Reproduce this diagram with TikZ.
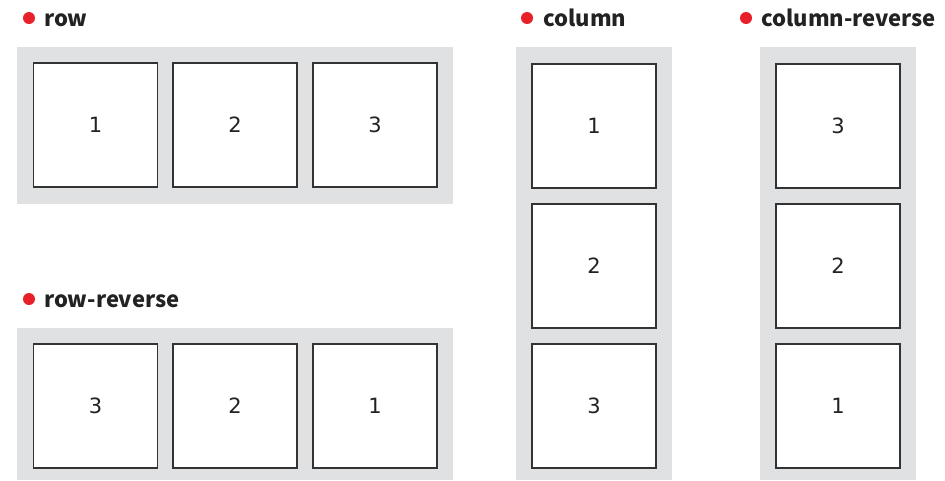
\documentclass[tikz,border=0pt]{standalone}
\usepackage{fontspec}
\newfontfamily\labelfont{Noto Sans CJK JP}
\newfontfamily\digitfont{DejaVu Sans}
\definecolor{panelgray}{HTML}{E0E1E3}
\definecolor{boxline}{HTML}{333333}
\definecolor{dotred}{HTML}{E8202A}
\definecolor{labeltext}{HTML}{222222}
\begin{document}
\begin{tikzpicture}[x=1pt,y=-1pt,
  panel/.style={fill=panelgray, draw=none},
  item/.style={draw=boxline, line width=1.2pt, fill=white, minimum width=124pt, minimum height=124pt, inner sep=0pt, font=\digitfont\fontsize{21}{21}\selectfont, text=labeltext},
  title/.style={anchor=base west, inner sep=0pt, font=\labelfont\bfseries\fontsize{22}{22}\selectfont, text=labeltext},
  bullet/.style={circle, fill=dotred, inner sep=0pt, minimum size=12pt}]
\useasboundingbox (0,0) rectangle (945,480);
% panels
\fill[panelgray] (17,47) rectangle (453,204);
\fill[panelgray] (17,328) rectangle (453,480);
\fill[panelgray] (516,47) rectangle (672,480);
\fill[panelgray] (760,47) rectangle (916,480);
% titles
\node[bullet] (d1) at (29,18) {};
\node[title] (t1) at (44,26) {row};
\node[bullet] (d2) at (29,299) {};
\node[title] (t2) at (44,307) {row-reverse};
\node[bullet] (d3) at (527,18) {};
\node[title] (t3) at (543,26) {column};
\node[bullet] (d4) at (746,18) {};
\node[title] (t4) at (761,26) {column-reverse};
% row
\node[item] (r1) at (95.5,125) {1};
\node[item] (r2) at (235,125) {2};
\node[item] (r3) at (375,125) {3};
% row-reverse
\node[item] (rr3) at (95.5,406) {3};
\node[item] (rr2) at (235,406) {2};
\node[item] (rr1) at (375,406) {1};
% column
\node[item] (c1) at (594,126) {1};
\node[item] (c2) at (594,266) {2};
\node[item] (c3) at (594,406) {3};
% column-reverse
\node[item] (cr3) at (838,126) {3};
\node[item] (cr2) at (838,266) {2};
\node[item] (cr1) at (838,406) {1};
\end{tikzpicture}
\end{document}
